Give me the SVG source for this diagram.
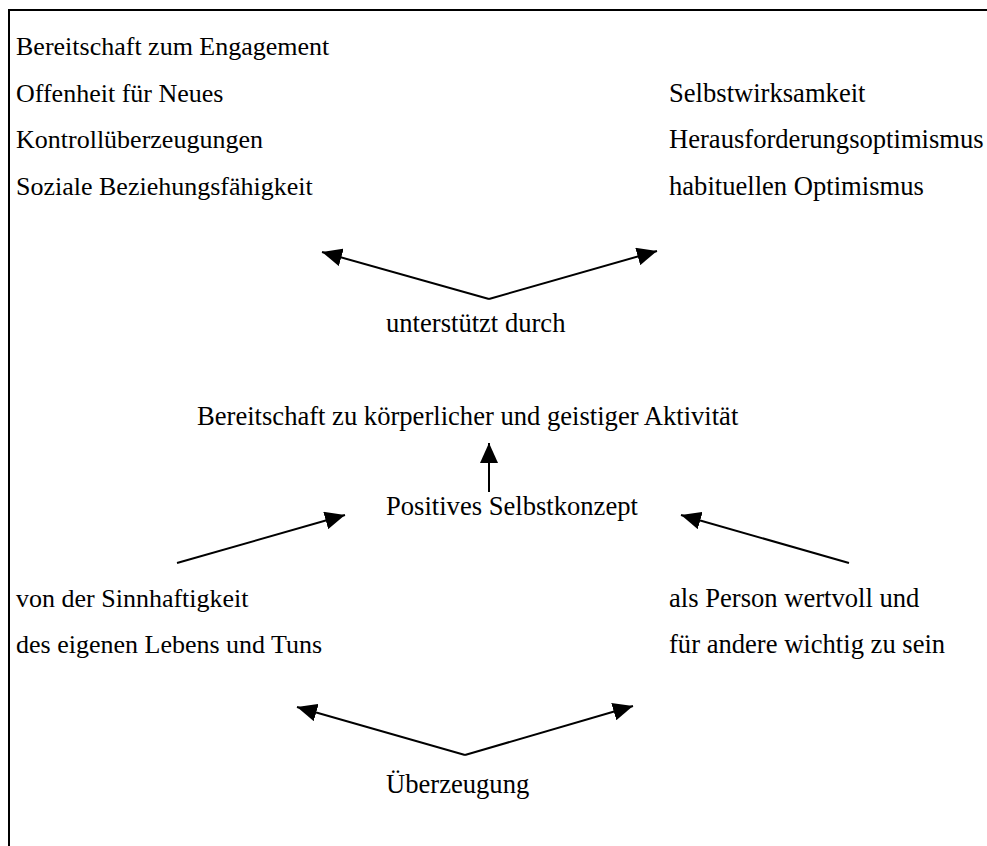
<svg xmlns="http://www.w3.org/2000/svg" width="987" height="846" viewBox="0 0 987 846">
  <style>
    .t { font-family: "Liberation Serif", "Times New Roman", serif; font-size: 26px; fill: #000; }
    .w { font-size: 26.6px; }
    .c { fill: none; stroke: #000; stroke-width: 2; }
  </style>
  <defs>
    <marker id="head" viewBox="0 0 20 18" refX="20" refY="9" markerWidth="20" markerHeight="18" markerUnits="userSpaceOnUse" orient="auto">
      <path d="M0,0 L20,9 L0,18 z" fill="#000"/>
    </marker>
  </defs>
  <rect width="987" height="846" fill="#fff"/>
  <!-- frame: top and left edges -->
  <path class="c" d="M9,846 V10 H987"/>

  <g id="resources-left">
    <text class="t" x="16" y="55">Bereitschaft zum Engagement</text>
    <text class="t" x="16" y="102">Offenheit für Neues</text>
    <text class="t" x="16" y="148">Kontrollüberzeugungen</text>
    <text class="t" x="16" y="195">Soziale Beziehungsfähigkeit</text>
  </g>
  <g id="resources-right">
    <text class="t w" x="669" y="102">Selbstwirksamkeit</text>
    <text class="t w" x="669" y="148">Herausforderungsoptimismus</text>
    <text class="t w" x="669" y="195">habituellen Optimismus</text>
  </g>
  <g id="supported-by">
    <text class="t w" x="386" y="332">unterstützt durch</text>
  </g>
  <g id="activity">
    <text class="t w" x="197" y="425">Bereitschaft zu körperlicher und geistiger Aktivität</text>
  </g>
  <g id="self-concept">
    <text class="t w" x="386" y="515">Positives Selbstkonzept</text>
  </g>
  <g id="meaning">
    <text class="t" x="16" y="607">von der Sinnhaftigkeit</text>
    <text class="t" x="16" y="653">des eigenen Lebens und Tuns</text>
  </g>
  <g id="worth">
    <text class="t w" x="669" y="607">als Person wertvoll und</text>
    <text class="t w" x="669" y="653">für andere wichtig zu sein</text>
  </g>
  <g id="conviction">
    <text class="t w" x="386" y="793">Überzeugung</text>
  </g>

  <g id="connectors">
    <line class="c" x1="489" y1="299" x2="322" y2="252" marker-end="url(#head)"/>
    <line class="c" x1="489" y1="299" x2="657" y2="251" marker-end="url(#head)"/>
    <line class="c" x1="489" y1="492" x2="489" y2="443" marker-end="url(#head)"/>
    <line class="c" x1="177" y1="563" x2="345" y2="515" marker-end="url(#head)"/>
    <line class="c" x1="849" y1="563" x2="681" y2="515" marker-end="url(#head)"/>
    <line class="c" x1="465" y1="755" x2="297" y2="707" marker-end="url(#head)"/>
    <line class="c" x1="465" y1="755" x2="633" y2="706" marker-end="url(#head)"/>
  </g>
</svg>
